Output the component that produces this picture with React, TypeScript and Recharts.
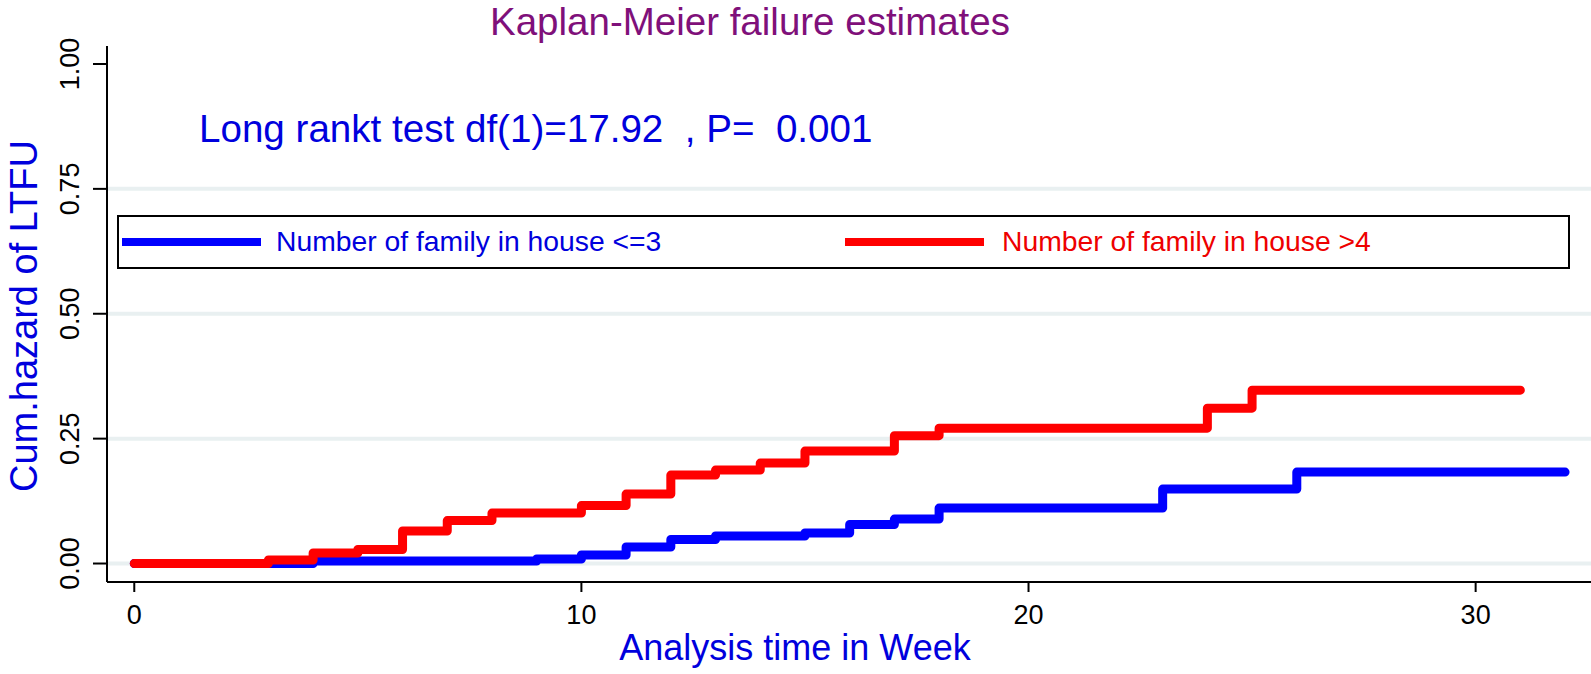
import React from 'react';
import { LineChart, Line, XAxis, YAxis, ReferenceLine, Legend } from 'recharts';

// weeks where the step changes, and the cumulative hazard after the step
const blueWeeks = [0, 4, 9, 10, 11, 12, 13, 15, 16, 17, 18, 23, 26, 32];
const blueHazard = [0, 0.005, 0.009, 0.017, 0.033, 0.048, 0.055, 0.061, 0.078, 0.089, 0.111, 0.149, 0.183, 0.183];

const redWeeks = [0, 3, 4, 5, 6, 7, 8, 10, 11, 12, 13, 14, 15, 17, 18, 24, 25, 31];
const redHazard = [0, 0.007, 0.021, 0.028, 0.065, 0.086, 0.101, 0.116, 0.139, 0.177, 0.187, 0.201, 0.225, 0.256, 0.271, 0.311, 0.347, 0.347];

const xTicks = [0, 10, 20, 30];
const yTicks = [0, 0.25, 0.5, 0.75, 1];
const gridValues = [0, 0.25, 0.5, 0.75];

const seriesNames = ['Number of family in house <=3', 'Number of family in house >4'];

const FONT = '"Liberation Sans", Arial, sans-serif';
const BLUE = '#0000ff';
const RED = '#ff0000';
const TEXT_BLUE = '#0000dd';

const toPoints = (weeks: number[], vals: number[]) => weeks.map((t, i) => ({ t, v: vals[i] }));

const YTick = (props: any) => {
  const { y, payload } = props;
  return (
    <text
      transform={`translate(79,${y}) rotate(-90)`}
      textAnchor="middle"
      fontFamily={FONT}
      fontSize={27}
      fill="#000"
    >
      {Number(payload.value).toFixed(2)}
    </text>
  );
};

const XTick = (props: any) => {
  const { x, payload } = props;
  return (
    <text x={x} y={624} textAnchor="middle" fontFamily={FONT} fontSize={27} fill="#000">
      {payload.value}
    </text>
  );
};

const LegendBox = () => (
  <div
    style={{
      width: 1453,
      height: 54,
      border: '2px solid #000',
      boxSizing: 'border-box',
      position: 'relative',
      fontFamily: FONT,
      fontSize: 28.3,
    }}
  >
    {[BLUE, RED].map((c, i) => (
      <React.Fragment key={i}>
        <div style={{ position: 'absolute', left: 3 + i * 723, top: 21, width: 139, height: 8, background: c }} />
        <div
          style={{
            position: 'absolute',
            left: 157 + i * 726,
            top: 7,
            lineHeight: '34px',
            color: i === 0 ? TEXT_BLUE : '#ee0000',
            whiteSpace: 'nowrap',
          }}
        >
          {seriesNames[i]}
        </div>
      </React.Fragment>
    ))}
  </div>
);

export default function App() {
  const blue = toPoints(blueWeeks, blueHazard);
  const red = toPoints(redWeeks, redHazard);

  return (
    <div style={{ position: 'absolute', left: 0, top: 0, width: 1591, height: 674, background: '#fff' }}>
      <LineChart width={1591} height={674} margin={{ top: 46, right: 0, bottom: 0, left: 0 }}>
        {gridValues.map((g) => (
          <ReferenceLine key={g} y={g} stroke="#e9f0f1" strokeWidth={4} />
        ))}
        <XAxis
          type="number"
          dataKey="t"
          domain={[-0.61, 32.58]}
          ticks={xTicks}
          height={92}
          axisLine={{ stroke: '#000', strokeWidth: 2 }}
          tickLine={{ stroke: '#000', strokeWidth: 2 }}
          tickSize={10}
          tick={<XTick />}
          allowDataOverflow
        />
        <YAxis
          type="number"
          domain={[-0.037, 1.036]}
          ticks={yTicks}
          width={107}
          axisLine={{ stroke: '#000', strokeWidth: 2 }}
          tickLine={{ stroke: '#000', strokeWidth: 2 }}
          tickSize={14}
          tick={<YTick />}
          allowDataOverflow
        />
        <Legend
          layout="horizontal"
          verticalAlign="middle"
          align="center"
          wrapperStyle={{ position: 'absolute', left: 117, top: 215, width: 1453, height: 54 }}
          content={() => <LegendBox />}
        />
        <Line
          data={blue}
          dataKey="v"
          type="stepAfter"
          stroke={BLUE}
          strokeWidth={9}
          strokeLinecap="round"
          strokeLinejoin="round"
          dot={false}
          isAnimationActive={false}
          name={seriesNames[0]}
        />
        <Line
          data={red}
          dataKey="v"
          type="stepAfter"
          stroke={RED}
          strokeWidth={9}
          strokeLinecap="round"
          strokeLinejoin="round"
          dot={false}
          isAnimationActive={false}
          name={seriesNames[1]}
        />
      </LineChart>
      <svg
        width={1591}
        height={674}
        style={{ position: 'absolute', left: 0, top: 0, pointerEvents: 'none' }}
      >
        <text x={750} y={35} textAnchor="middle" fontFamily={FONT} fontSize={38.5} fill="#7f107a">
          Kaplan-Meier failure estimates
        </text>
        <text x={199} y={142} fontFamily={FONT} fontSize={38.6} fill={TEXT_BLUE} style={{ whiteSpace: 'pre' }}>
          {'Long rankt test df(1)=17.92  , P=  0.001'}
        </text>
        <text x={795} y={660} textAnchor="middle" fontFamily={FONT} fontSize={36} fill={TEXT_BLUE}>
          Analysis time in Week
        </text>
        <text
          transform="translate(37,316) rotate(-90)"
          textAnchor="middle"
          fontFamily={FONT}
          fontSize={38}
          fill={TEXT_BLUE}
        >
          Cum.hazard of LTFU
        </text>
      </svg>
    </div>
  );
}
